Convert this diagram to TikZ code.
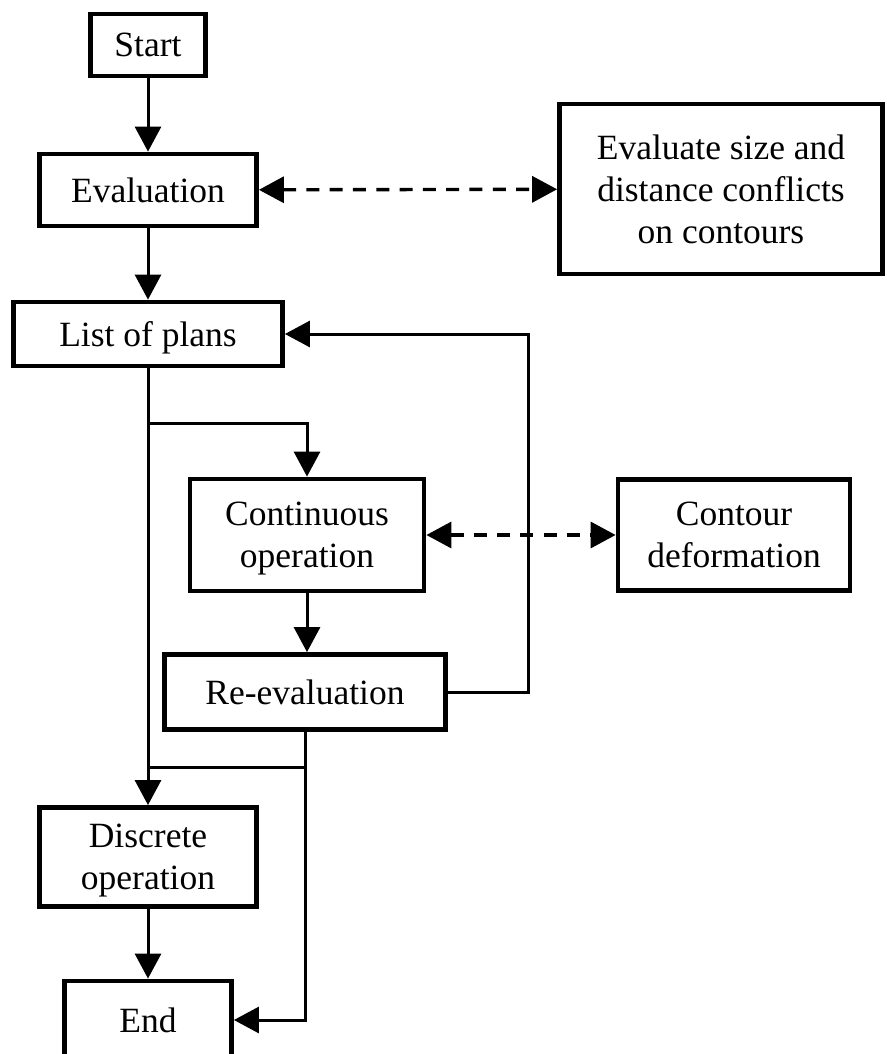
\documentclass[tikz,border=0pt]{standalone}
\usepackage{fontspec}
\setmainfont{Liberation Serif}
\usepackage{tikz}
\usetikzlibrary{arrows.meta,backgrounds}
\tikzstyle{flowchart}=[
  x=1pt, y=-1pt, font=\fontsize{35.5}{42}\selectfont
]
\tikzstyle{stepnode}=[
  draw, rectangle, line width=4.8pt, align=center, inner sep=0pt, fill=white,
  text depth=-10pt
]
\tikzset{
  flow/.style={line width=3pt, -{Triangle[length=25pt,width=26pt]}},
  link/.style={line width=3pt},
  both/.style={line width=3.4pt, dash pattern=on 13pt off 10.3pt,
    {Triangle[length=25pt,width=26pt]}-{Triangle[length=25pt,width=26pt]}},
}

\begin{document}
\begin{tikzpicture}[flowchart]
    \clip (0,0) rectangle (886,1054);
    \node (start) at (148, 45) [stepnode, minimum width=115pt, minimum height=62pt] {Start};
    \node (eval) at (148, 190) [stepnode, minimum width=217pt, minimum height=72pt] {Evaluation};
    \node (conflicts) at (721, 189) [stepnode, minimum width=323pt, minimum height=170pt, text depth=-23pt] {Evaluate size and\\distance conflicts\\on contours};
    \node (plans) at (148, 334) [stepnode, minimum width=269pt, minimum height=64pt] {List of plans};
    \node (cont) at (307, 535) [stepnode, minimum width=234pt, minimum height=112pt] {Continuous\\operation};
    \node (deform) at (734, 535) [stepnode, minimum width=232pt, minimum height=111pt] {Contour\\deformation};
    \node (reeval) at (305, 692) [stepnode, minimum width=281pt, minimum height=75pt] {Re-evaluation};
    \node (discrete) at (148, 857) [stepnode, minimum width=217pt, minimum height=99pt] {Discrete\\operation};
    \node (finish) at (148, 1020) [stepnode, minimum width=167pt, minimum height=78pt] {End};

    \coordinate (split) at (148, 423);
    \coordinate (merge) at (148, 767);
    \coordinate (loop) at (528, 334);

    \begin{scope}[on background layer]
      \draw [flow] (start) -- (eval);
      \draw [flow] (eval) -- (plans);
      \draw [both] (eval) -- (conflicts);
      \draw [flow] (plans) -- (discrete);
      \draw [flow] (split) -| (cont);
      \draw [both] (cont) -- (deform);
      \draw [flow] (cont) -- (cont |- reeval.north);
      \draw [flow] (reeval) -| (loop) -- (plans);
      \draw [link] (merge) -- (reeval.south |- merge);
      \draw [flow] (reeval) |- (finish);
      \draw [flow] (discrete) -- (finish);
    \end{scope}
\end{tikzpicture}
\end{document}
